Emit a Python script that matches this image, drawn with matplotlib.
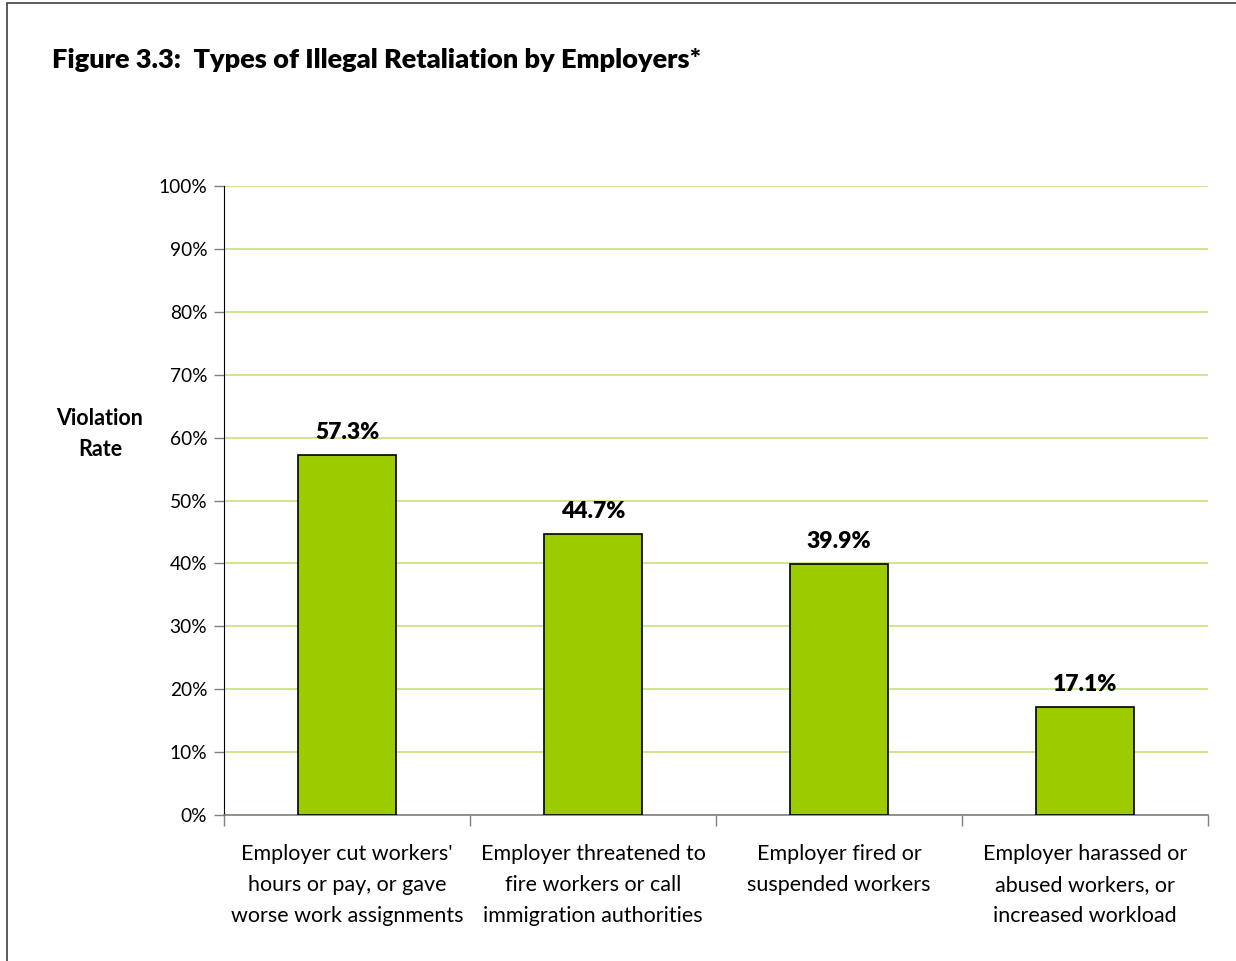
import matplotlib
matplotlib.use("Agg")
import matplotlib.pyplot as plt
from matplotlib.patches import Rectangle

categories = ["Employer cut workers'\nhours or pay, or gave\nworse work assignments",
              "Employer threatened to\nfire workers or call\nimmigration authorities",
              "Employer fired or\nsuspended workers",
              "Employer harassed or\nabused workers, or\nincreased workload"]
values = [57.3, 44.7, 39.9, 17.1]
value_labels = ["57.3%", "44.7%", "39.9%", "17.1%"]
yticks = [0, 10, 20, 30, 40, 50, 60, 70, 80, 90, 100]
ytick_labels = [f"{v}%" for v in yticks]

plt.rcParams['font.family'] = ['Lato', 'DejaVu Sans']

fig = plt.figure(figsize=(12.36, 9.61), dpi=100)
ax = fig.add_axes([224/1236, 1-815/961, (1208-224)/1236, (815-186)/961])

x = list(range(len(values)))
ax.set_xlim(-0.5, len(values) - 0.5)
ax.set_ylim(0, 100)
ax.set_yticks(yticks)
ax.set_yticklabels(ytick_labels, fontsize=13.8)
ax.yaxis.grid(True, color='#c6e07a', linewidth=1.2)
ax.set_axisbelow(True)

ax.bar(x, values, width=0.4, color='#9ccb00', edgecolor='black', linewidth=1.2, zorder=3)
for xi, v, lab in zip(x, values, value_labels):
    ax.text(xi, v + 1.9, lab, ha='center', va='bottom', fontsize=16.5, fontweight='heavy')

ax.set_xticks([i - 0.5 for i in range(len(values) + 1)])
ax.set_xticklabels([])
ax.tick_params(axis='x', direction='out', length=8, color='#808080', width=1)
ax.tick_params(axis='y', direction='out', length=7, color='#808080', width=1, pad=5)
for i, c in enumerate(categories):
    ax.text(i, -4.6, c, ha='center', va='top', fontsize=15.5, linespacing=1.7,
            transform=ax.transData)

for s in ['top', 'right']:
    ax.spines[s].set_visible(False)
ax.spines['left'].set_color('black')
ax.spines['bottom'].set_color('#808080')
ax.spines['bottom'].set_linewidth(1.2)

fig.text(52/1236, 1-60/961, "Figure 3.3:  Types of Illegal Retaliation by Employers*",
         fontsize=19.5, fontweight='heavy', ha='left', va='center')
fig.text(100/1236, 1-434/961, "Violation\nRate", fontsize=15.5, fontweight='bold',
         ha='center', va='center', linespacing=1.62)

fig.patches.append(Rectangle((7/1236, -0.05), 1.2, 1 - 3/961 + 0.05, transform=fig.transFigure,
                             fill=False, edgecolor='#404040', linewidth=1.2))

fig.savefig("out.png", dpi=100)
